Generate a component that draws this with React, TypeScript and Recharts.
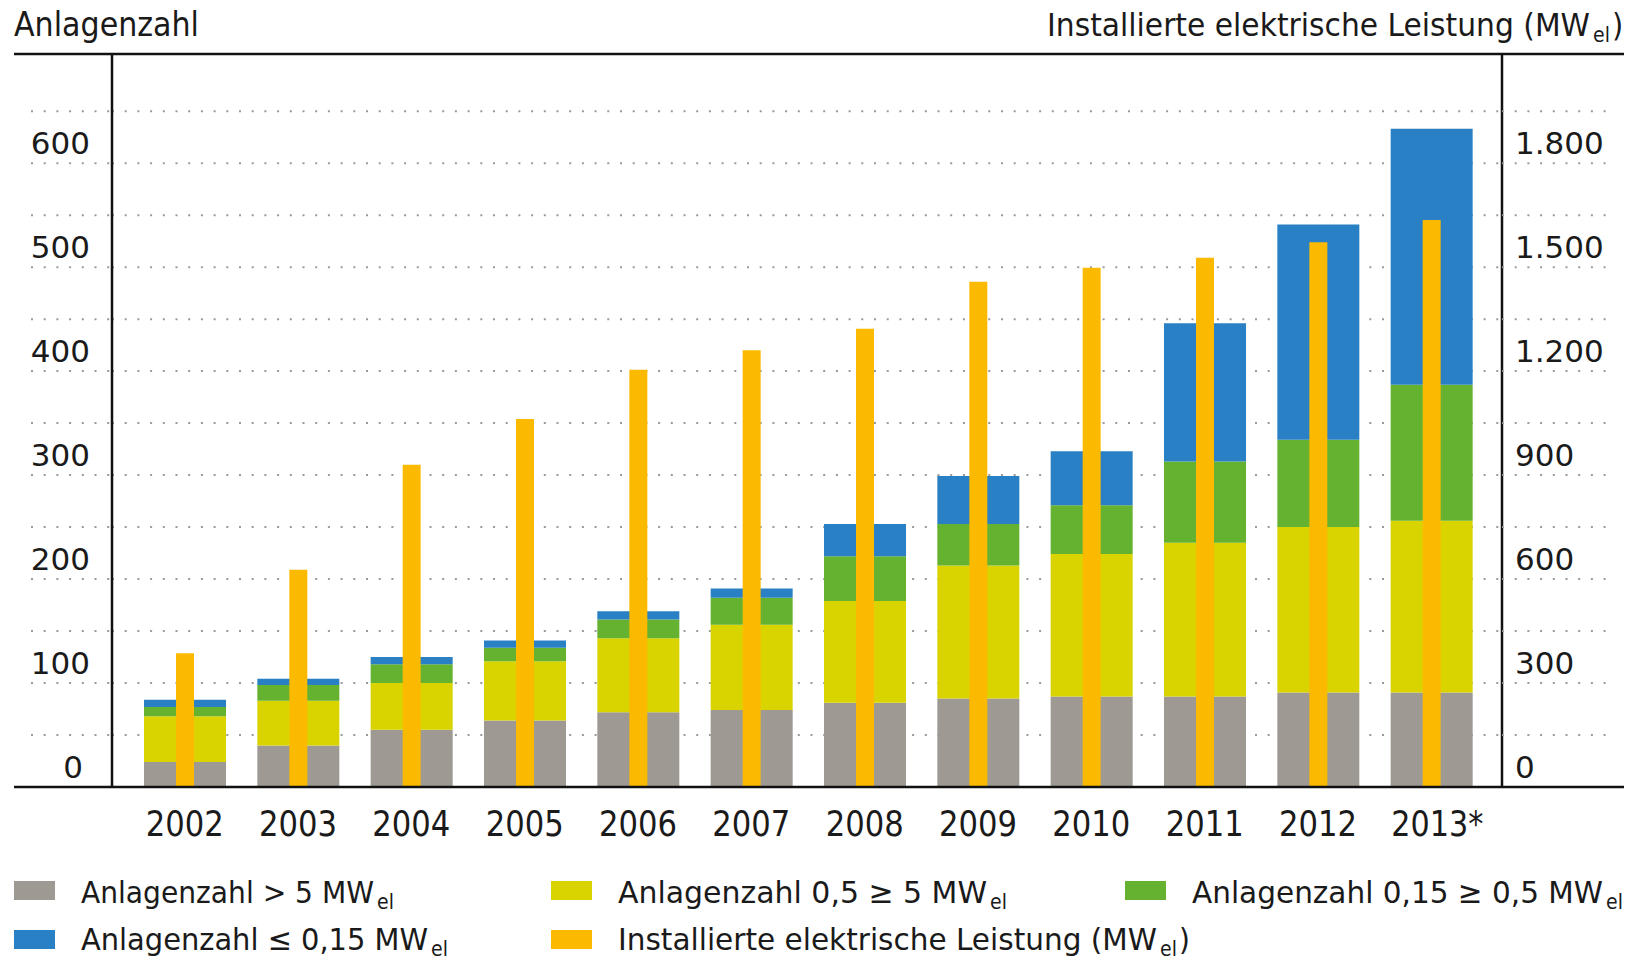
import React from 'react';
import { ComposedChart, Bar, XAxis, YAxis, CartesianGrid } from 'recharts';

// ---- data ----
const years = ['2002', '2003', '2004', '2005', '2006', '2007', '2008', '2009', '2010', '2011', '2012', '2013*'];
const countOver5 = [24, 40, 55, 64, 72, 74, 81, 85, 87, 87, 91, 91];
const count05to5 = [44, 43, 45, 57, 71, 82, 98, 128, 137, 148, 159, 165];
const count015to05 = [9, 15, 18, 13, 18, 26, 43, 40, 47, 78, 84, 131];
const countUpTo015 = [7, 6, 7, 7, 8, 9, 31, 46, 52, 133, 207, 246];
const capacityMW = [386, 627, 930, 1062, 1204, 1260, 1322, 1458, 1498, 1527, 1572, 1636];

const leftTicks = [0, 50, 100, 150, 200, 250, 300, 350, 400, 450, 500, 550, 600, 650];
const leftLabels = ['0', '', '100', '', '200', '', '300', '', '400', '', '500', '', '600', ''];
const rightTicks = [0, 150, 300, 450, 600, 750, 900, 1050, 1200, 1350, 1500, 1650, 1800, 1950];
const rightLabels = ['0', '', '300', '', '600', '', '900', '', '1.200', '', '1.500', '', '1.800', ''];

const data = years.map((year, i) => ({
  year,
  over5: countOver5[i],
  mid: count05to5[i],
  small: count015to05[i],
  tiny: countUpTo015[i],
  cap: capacityMW[i],
}));

// ---- style ----
const W = 1630;
const H = 961;
const PLOT_LEFT = 112;
const PLOT_RIGHT = 1502;
const PLOT_TOP = 54;
const PLOT_BOTTOM = 787;
const C_GRAY = '#9e9a93';
const C_YELLOW = '#d9d400';
const C_GREEN = '#64b22f';
const C_BLUE = '#2980c4';
const C_ORANGE = '#fbba00';
const TXT = '#1a1a1a';
const GRID = '#9a9a9a';
const DASH = '2 10.7';
const NUM_FONT = "'DejaVu Sans', Verdana, sans-serif";
const COND_FONT = "'Liberation Sans Narrow', 'DejaVu Sans Condensed', 'Liberation Sans', sans-serif";

const LeftTick = (props: any) => {
  const { y, payload, index } = props;
  const label = leftLabels[index] ?? '';
  return (
    <g>
      {payload.value > 0 && (
        <line x1={31} x2={PLOT_LEFT} y1={y} y2={y} stroke={GRID} strokeWidth={2} strokeDasharray={DASH} />
      )}
      {label && (
        <text x={label === '0' ? 83 : 90} y={y - 9} textAnchor="end" fontSize={31} fontFamily={NUM_FONT} fill={TXT}>
          {label}
        </text>
      )}
    </g>
  );
};

const RightTick = (props: any) => {
  const { y, payload, index } = props;
  const label = rightLabels[index] ?? '';
  return (
    <g>
      {payload.value > 0 && (
        <line x1={PLOT_RIGHT} x2={1606} y1={y} y2={y} stroke={GRID} strokeWidth={2} strokeDasharray={DASH} />
      )}
      {label && (
        <text x={1515} y={y - 9} textAnchor="start" fontSize={31} fontFamily={NUM_FONT} fill={TXT}>
          {label}
        </text>
      )}
    </g>
  );
};

const YearTick = (props: any) => {
  const { x, payload } = props;
  const v = String(payload.value);
  const len = v.length > 4 ? 92 : 78;
  return (
    <text
      x={v.length > 4 ? x + 6 : x}
      y={836}
      textAnchor="middle"
      fontSize={35}
      fontFamily={COND_FONT}
      fill={TXT}
      textLength={len}
      lengthAdjust="spacingAndGlyphs"
    >
      {v}
    </text>
  );
};

type LegendItem = { color: string; x: number; row: number; main: string; mainLen: number; sub: string; tail?: string };
const legendItems: LegendItem[] = [
  { color: C_GRAY, x: 14, row: 0, main: 'Anlagenzahl > 5 MW', mainLen: 293, sub: 'el' },
  { color: C_YELLOW, x: 551, row: 0, main: 'Anlagenzahl  0,5 ≥ 5 MW', mainLen: 369, sub: 'el' },
  { color: C_GREEN, x: 1125, row: 0, main: 'Anlagenzahl 0,15 ≥ 0,5 MW', mainLen: 411, sub: 'el' },
  { color: C_BLUE, x: 14, row: 1, main: 'Anlagenzahl ≤ 0,15 MW', mainLen: 347, sub: 'el' },
  { color: C_ORANGE, x: 551, row: 1, main: 'Installierte elektrische Leistung (MW', mainLen: 539, sub: 'el', tail: ')' },
];

const SubLabel = ({ x, y, main, mainLen, sub, tail, size }: { x: number; y: number; main: string; mainLen: number; sub: string; tail?: string; size: number }) => (
  <text x={x} y={y} fontSize={size} fontFamily={COND_FONT} fill={TXT}>
    <tspan textLength={mainLen} lengthAdjust="spacingAndGlyphs">{main}</tspan>
    <tspan dx={3} dy={6} fontSize={21}>{sub}</tspan>
    {tail && <tspan dx={2} dy={-6}>{tail}</tspan>}
  </text>
);

const Overlay = () => (
  <svg width={W} height={H} style={{ position: 'absolute', left: 0, top: 0, pointerEvents: 'none' }}>
    <line x1={14} x2={1624} y1={PLOT_TOP} y2={PLOT_TOP} stroke="#111" strokeWidth={2.5} />
    <line x1={14} x2={1624} y1={PLOT_BOTTOM} y2={PLOT_BOTTOM} stroke="#111" strokeWidth={2.5} />
    <text x={14} y={36} fontSize={34} fontFamily={COND_FONT} fill={TXT} textLength={185} lengthAdjust="spacingAndGlyphs">
      Anlagenzahl
    </text>
    <SubLabel x={1047} y={36} size={32} main="Installierte elektrische Leistung (MW" mainLen={543} sub="el" tail=")" />
    {legendItems.map((it, i) => {
      const baseY = it.row === 0 ? 903 : 950;
      const swY = it.row === 0 ? 881 : 930;
      return (
        <g key={i}>
          <rect x={it.x} y={swY} width={41} height={19} fill={it.color} />
          <SubLabel x={it.x + 67} y={baseY} size={31} main={it.main} mainLen={it.mainLen} sub={it.sub} tail={it.tail} />
        </g>
      );
    })}
  </svg>
);

export default function App() {
  return (
    <div style={{ position: 'absolute', left: 0, top: 0, width: W, height: H, background: '#fff' }}>
      <ComposedChart
        width={W}
        height={H}
        data={data}
        margin={{ top: PLOT_TOP, right: 0, bottom: H - PLOT_BOTTOM - 60, left: 0 }}
      >
        <CartesianGrid
          yAxisId="left"
          xAxisId="main"
          horizontal
          vertical={false}
          stroke={GRID}
          strokeWidth={2}
          strokeDasharray={DASH}
        />
        <XAxis
          xAxisId="main"
          dataKey="year"
          height={60}
          padding={{ left: 16, right: 14 }}
          axisLine={false}
          tickLine={false}
          tick={<YearTick />}
          interval={0}
        />
        <XAxis xAxisId="over" dataKey="year" hide padding={{ left: 16, right: 14 }} />
        <YAxis
          yAxisId="left"
          width={PLOT_LEFT}
          domain={[0, 705]}
          ticks={leftTicks}
          interval={0}
          allowDataOverflow
          axisLine={{ stroke: '#111', strokeWidth: 2.5 }}
          tickLine={false}
          tick={<LeftTick />}
        />
        <YAxis
          yAxisId="right"
          orientation="right"
          width={W - PLOT_RIGHT}
          domain={[0, 2115]}
          ticks={rightTicks}
          interval={0}
          allowDataOverflow
          axisLine={{ stroke: '#111', strokeWidth: 2.5 }}
          tickLine={false}
          tick={<RightTick />}
        />
        <Bar xAxisId="main" yAxisId="left" dataKey="over5" stackId="n" fill={C_GRAY} barSize={82} isAnimationActive={false} />
        <Bar xAxisId="main" yAxisId="left" dataKey="mid" stackId="n" fill={C_YELLOW} barSize={82} isAnimationActive={false} />
        <Bar xAxisId="main" yAxisId="left" dataKey="small" stackId="n" fill={C_GREEN} barSize={82} isAnimationActive={false} />
        <Bar xAxisId="main" yAxisId="left" dataKey="tiny" stackId="n" fill={C_BLUE} barSize={82} isAnimationActive={false} />
        <Bar xAxisId="over" yAxisId="right" dataKey="cap" fill={C_ORANGE} barSize={18} isAnimationActive={false} />
      </ComposedChart>
      <Overlay />
    </div>
  );
}
